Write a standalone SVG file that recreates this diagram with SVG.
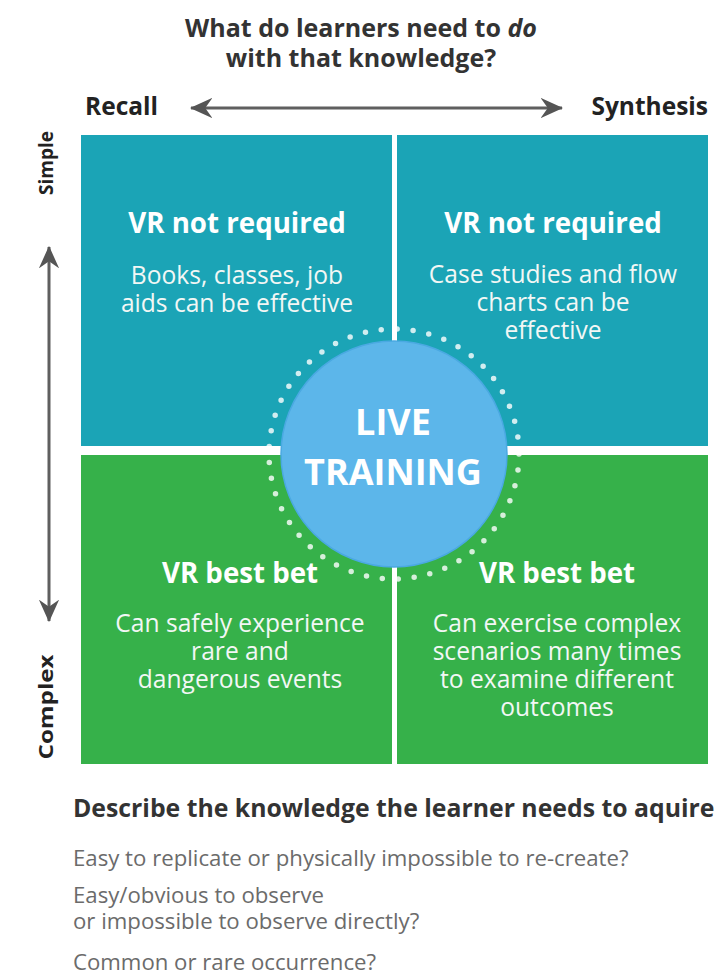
<svg xmlns="http://www.w3.org/2000/svg" width="726" height="976" viewBox="0 0 726 976">
  <style>
    .t { font-family: "Open Sans", "Liberation Sans", sans-serif; }
    .dark { fill: #333333; font-weight: 700; }
    .axis { fill: #222222; font-weight: 700; }
    .head { fill: #ffffff; font-weight: 700; font-size: 27.7px; text-anchor: middle; }
    .body { fill: #f2f7f5; font-size: 24.6px; text-anchor: middle; }
    .note { fill: #6b6b6b; font-size: 22.2px; }
    .arrow { stroke: #5f5f5f; stroke-width: 3; fill: none; }
  </style>
  <defs>
    <marker id="ah" viewBox="0 0 10 10" refX="9.5" refY="5" markerWidth="7.5" markerHeight="7.5" orient="auto-start-reverse" markerUnits="strokeWidth">
      <path d="M0,0.5 L10,5 L0,9.5 L3.2,5 Z" fill="#555555"/>
    </marker>
  </defs>

  <rect width="726" height="976" fill="#ffffff"/>

  <!-- title -->
  <g id="title" class="t dark" font-size="25" text-anchor="middle">
    <text x="361" y="37">What do learners need to <tspan font-style="italic">do</tspan></text>
    <text x="361" y="67">with that knowledge?</text>
  </g>

  <!-- axes -->
  <g id="connectors">
    <line class="arrow" x1="191" y1="108" x2="562" y2="108" marker-start="url(#ah)" marker-end="url(#ah)"/>
    <line class="arrow" x1="49" y1="247" x2="49" y2="621" marker-start="url(#ah)" marker-end="url(#ah)"/>
  </g>
  <g id="axis-labels" class="t axis">
    <text x="85" y="115" font-size="24.5">Recall</text>
    <text x="708" y="115" font-size="24.5" text-anchor="end">Synthesis</text>
    <text transform="translate(53,163) rotate(-90)" font-size="19" text-anchor="middle">Simple</text>
    <text transform="translate(53,707) rotate(-90)" font-size="19" text-anchor="middle" textLength="105" lengthAdjust="spacingAndGlyphs">Complex</text>
  </g>

  <!-- quadrants -->
  <g id="q-simple-recall">
    <rect x="81" y="135" width="311" height="311" fill="#1ba4b6"/>
  </g>
  <g id="q-simple-synthesis">
    <rect x="397" y="135" width="311" height="311" fill="#1ba4b6"/>
  </g>
  <g id="q-complex-recall">
    <rect x="81" y="455" width="311" height="309" fill="#36b14a"/>
  </g>
  <g id="q-complex-synthesis">
    <rect x="397" y="455" width="311" height="309" fill="#36b14a"/>
  </g>

  <!-- central circle with dotted halo -->
  <g id="live-training">
    <circle cx="394" cy="454" r="125" fill="none" stroke="#ffffff" stroke-opacity="0.8" stroke-width="5.5" stroke-linecap="round" stroke-dasharray="0 16"/>
    <rect x="392" y="320" width="5" height="268" fill="#ffffff"/>
    <rect x="268" y="446" width="252" height="9" fill="#ffffff"/>
    <circle cx="394" cy="454" r="113" fill="#5cb6ea" stroke="#4aa9e2" stroke-width="1.5"/>
    <text class="t" x="393" y="435" font-size="36" font-weight="700" fill="#ffffff" text-anchor="middle">LIVE</text>
    <text class="t" x="393" y="485" font-size="36" font-weight="700" fill="#ffffff" text-anchor="middle">TRAINING</text>
  </g>

  <!-- quadrant labels -->
  <g id="label-simple-recall" class="t">
    <text class="head" x="237" y="233">VR not required</text>
    <text class="body" x="237" y="284">Books, classes, job</text>
    <text class="body" x="237" y="312">aids can be effective</text>
  </g>
  <g id="label-simple-synthesis" class="t">
    <text class="head" x="553" y="233">VR not required</text>
    <text class="body" x="553" y="283">Case studies and flow</text>
    <text class="body" x="553" y="311">charts can be</text>
    <text class="body" x="553" y="339">effective</text>
  </g>
  <g id="label-complex-recall" class="t">
    <text class="head" x="240" y="583">VR best bet</text>
    <text class="body" x="240" y="632">Can safely experience</text>
    <text class="body" x="240" y="660">rare and</text>
    <text class="body" x="240" y="688">dangerous events</text>
  </g>
  <g id="label-complex-synthesis" class="t">
    <text class="head" x="557" y="583">VR best bet</text>
    <text class="body" x="557" y="632">Can exercise complex</text>
    <text class="body" x="557" y="660">scenarios many times</text>
    <text class="body" x="557" y="688">to examine different</text>
    <text class="body" x="557" y="716">outcomes</text>
  </g>

  <!-- questions below the grid -->
  <g id="questions" class="t">
    <text class="dark" x="73" y="817" font-size="24.8">Describe the knowledge the learner needs to aquire</text>
    <text class="note" x="73" y="866">Easy to replicate or physically impossible to re-create?</text>
    <text class="note" x="73" y="903">Easy/obvious to observe</text>
    <text class="note" x="73" y="929">or impossible to observe directly?</text>
    <text class="note" x="73" y="970">Common or rare occurrence?</text>
  </g>
</svg>
